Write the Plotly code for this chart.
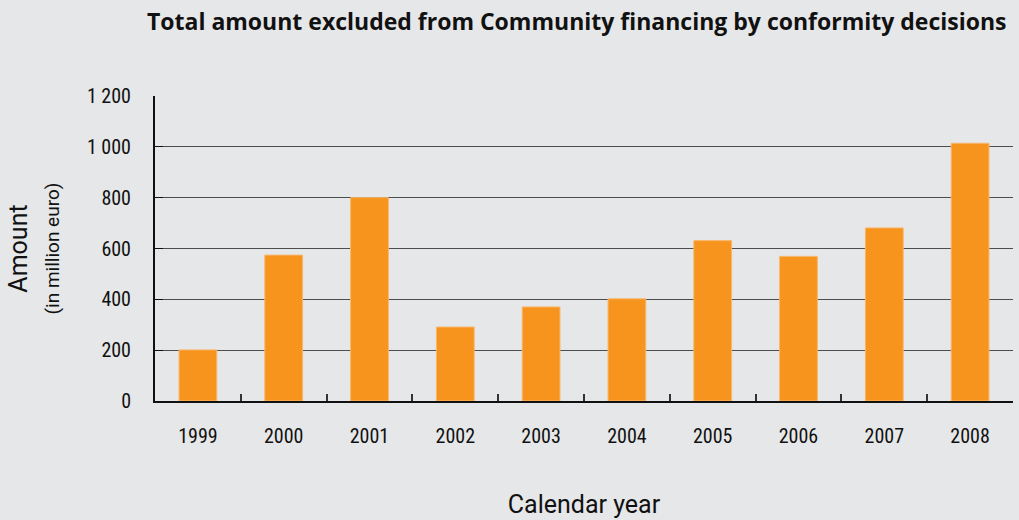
import plotly.graph_objects as go

years = ["1999", "2000", "2001", "2002", "2003", "2004", "2005", "2006", "2007", "2008"]
amounts = [201, 574, 800, 291, 370, 402, 631, 569, 681, 1014]
y_ticks = [0, 200, 400, 600, 800, 1000, 1200]
y_tick_labels = ["0", "200", "400", "600", "800", "1 000", "1 200"]

FONT = "Roboto Condensed, DejaVu Sans Condensed, Roboto, sans-serif"
TFONT = "Roboto, sans-serif"
BG = "#E6E7E8"

fig = go.Figure(go.Bar(
    x=years, y=amounts,
    marker=dict(color="#F7941D", line=dict(color="#F9B66A", width=1)),
    width=0.44,
))

fig.update_layout(
    width=1019, height=520,
    margin=dict(l=155, r=6, t=96, b=119),
    paper_bgcolor=BG, plot_bgcolor=BG,
    showlegend=False,
    font=dict(family=FONT, color="#111111"),
    title=dict(
        text="<b>Total amount excluded from Community financing by conformity decisions</b>",
        x=0.566, xanchor="center", y=0.957, yanchor="middle",
        font=dict(size=23, family="Open Sans, sans-serif", color="#111111"),
    ),
)

fig.update_yaxes(
    range=[0, 1200], tickvals=y_ticks, ticktext=y_tick_labels,
    showgrid=True, gridcolor="#4d4d4d", gridwidth=1,
    showline=True, linecolor="#111111", linewidth=2,
    ticks="inside", ticklen=8, tickcolor="#111111", tickwidth=1,
    ticklabelstandoff=18,
    tickfont=dict(size=20, family=FONT),
    zeroline=False,
    title=dict(
        text="Amount<br><span style='font-size:19px'>(in million euro)</span>",
        font=dict(size=25, family=TFONT), standoff=20,
    ),
)

fig.update_xaxes(
    type="category",
    showline=True, linecolor="#111111", linewidth=2,
    ticks="inside", ticklen=7, tickcolor="#333333", tickwidth=2,
    tickson="boundaries",
    ticklabelstandoff=16,
    tickfont=dict(size=20, family=FONT),
    title=dict(text="Calendar year", font=dict(size=25, family=TFONT), standoff=48),
)

fig.write_html("out.html")
